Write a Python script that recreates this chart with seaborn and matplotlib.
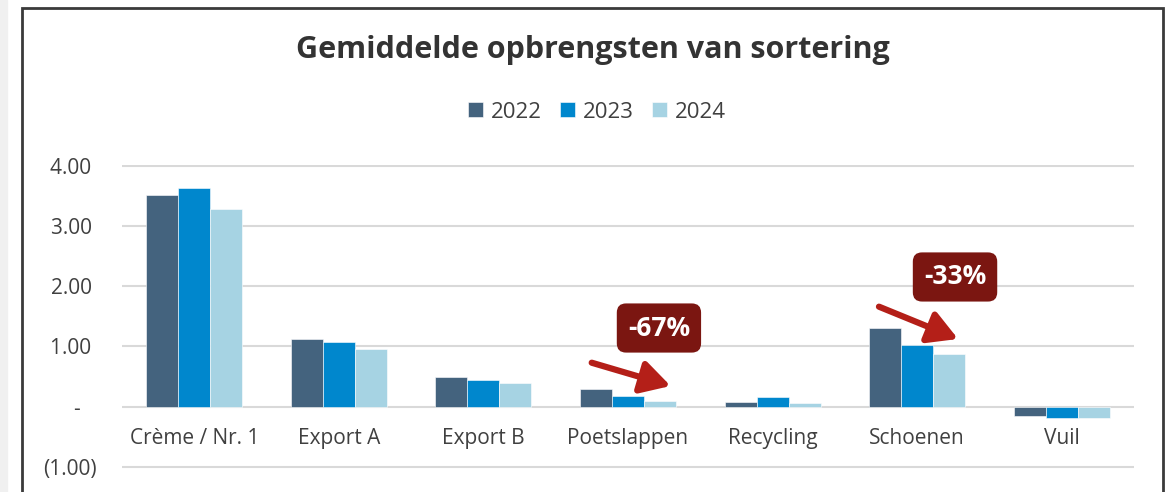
import matplotlib
matplotlib.use('Agg')
import matplotlib.pyplot as plt
from matplotlib.patches import Rectangle
import seaborn as sns
import pandas as pd

# Gegevens
categorieen = ['Crème / Nr. 1', 'Export A', 'Export B', 'Poetslappen', 'Recycling', 'Schoenen', 'Vuil']
jaren = ['2022', '2023', '2024']
w2022 = [3.51, 1.12, 0.50, 0.30, 0.07, 1.31, -0.15]
w2023 = [3.63, 1.07, 0.44, 0.17, 0.16, 1.02, -0.18]
w2024 = [3.28, 0.96, 0.40, 0.10, 0.06, 0.87, -0.18]
yticks = [-1, 0, 1, 2, 3, 4]
ytick_labels = ['(1.00)', '-   ', '1.00 ', '2.00 ', '3.00 ', '4.00 ']
kleuren = ['#44637E', '#0087CD', '#A6D3E3']

df = pd.DataFrame({
    'categorie': categorieen * 3,
    'jaar': [j for j in jaren for _ in categorieen],
    'waarde': w2022 + w2023 + w2024,
})

sns.set_style('white')
plt.rcParams['font.family'] = ['Open Sans', 'DejaVu Sans']
tekstkleur = '#404040'

fig = plt.figure(figsize=(11.74, 4.92), dpi=100)
W, H = 1174, 492

# achtergrondstrook en kader
fig.add_artist(Rectangle((0, 0), 7 / W, 1, transform=fig.transFigure, color='#F0F0F0', zorder=0))
fig.add_artist(Rectangle((22 / W, -0.1), (1163 - 22) / W, 1.1 - 8 / H, transform=fig.transFigure,
                         fill=False, edgecolor='#3A3A3A', linewidth=2, zorder=5))

ax = fig.add_axes([122 / W, 0, (1134 - 122) / W, 1 - 164.5 / H])
sns.barplot(data=df, x='categorie', y='waarde', hue='jaar', palette=kleuren, width=0.665,
            gap=0, saturation=1, edgecolor='white', linewidth=0.4, ax=ax, legend=True)

ax.set_ylim(-1.416, 4.02)
ax.set_xlim(-0.5, 6.5)
ax.set_yticks(yticks)
ax.set_yticklabels(ytick_labels, fontsize=15, color=tekstkleur)
ax.tick_params(axis='y', length=0, pad=18)
ax.set_xticks([])
ax.set_xlabel('')
ax.set_ylabel('')
for s in ax.spines.values():
    s.set_visible(False)
for yv in yticks:
    ax.axhline(yv, color='#D9D9D9', linewidth=1.5, zorder=0)
ax.set_axisbelow(True)

for i, c in enumerate(categorieen):
    ax.text(i, -0.52, c, ha='center', va='center', fontsize=15, color=tekstkleur)

# legenda
handles, labels = ax.get_legend_handles_labels()
ax.get_legend().remove()
fig.legend(handles, labels, loc='center', bbox_to_anchor=(597 / W, 1 - 112 / H), ncol=3,
           frameon=False, fontsize=16, handlelength=0.65, handleheight=0.65,
           handletextpad=0.35, columnspacing=0.85, labelcolor=tekstkleur)

fig.text(593 / W, 1 - 50 / H, 'Gemiddelde opbrengsten van sortering', ha='center', va='center',
         fontsize=22, fontweight='bold', color='#333333')

# annotaties
for tekst, bx, by, start, eind in [('-67%', 3.214, 1.306, (2.749, 0.73), (3.295, 0.344)),
                                    ('-33%', 5.262, 2.153, (4.736, 1.66), (5.283, 1.124))]:
    ax.text(bx, by, tekst, ha='center', va='center', fontsize=19, fontweight='bold', color='white',
            bbox=dict(boxstyle='round,pad=0.42,rounding_size=0.35', facecolor='#7B1611', edgecolor='none'))
    ax.annotate('', xy=eind, xytext=start,
                arrowprops=dict(arrowstyle='-|>,head_length=0.8,head_width=0.45', color='#B41F18',
                                lw=4.5, mutation_scale=22, shrinkA=0, shrinkB=0))

fig.savefig('out.png', dpi=100)
